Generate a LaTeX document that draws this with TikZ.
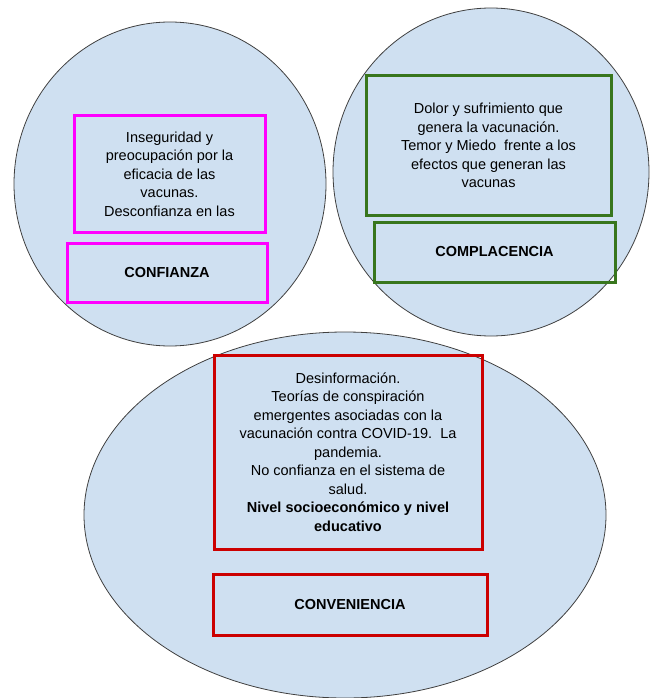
\documentclass[tikz,border=0pt]{standalone}
\usepackage{fontspec}
\setmainfont{Liberation Sans}
\definecolor{celeste}{RGB}{207,224,241}
\definecolor{fucsia}{RGB}{255,0,255}
\definecolor{verdeosc}{RGB}{56,118,29}
\definecolor{rojo}{RGB}{204,0,0}
\definecolor{borde}{RGB}{64,64,64}

\begin{document}
\begin{tikzpicture}[x=1pt, y=-1pt,
  globo/.style={draw=borde, line width=.8pt, fill=celeste},
  caja/.style={draw, line width=3pt, align=center, inner sep=0pt, font=\fontsize{14.5}{18.5}\selectfont},
  titulo/.style={caja, font=\fontsize{14.5}{18.5}\selectfont\bfseries}]
\useasboundingbox (0,0) rectangle (652,698);
\draw[globo] (170,184) ellipse [x radius=156, y radius=162];
\draw[globo] (491,172) ellipse [x radius=158, y radius=164];
\draw[globo] (345,515) ellipse [x radius=261, y radius=183];
\node[caja, fucsia, text=black, minimum width=191, minimum height=116] (conf_txt) at (169.5,174)
  {Inseguridad y\\ preocupación por la\\ eficacia de las\\ vacunas.\\ Desconfianza en las};
\node[titulo, fucsia, text=black, minimum width=200, minimum height=59] (conf) at (167,272.5) {CONFIANZA};
\node[caja, verdeosc, text=black, minimum width=245, minimum height=139] (compl_txt) at (488.5,145.5)
  {Dolor y sufrimiento que\\ genera la vacunación.\\ Temor y Miedo\ \ frente a los\\ efectos que generan las\\ vacunas};
\node[titulo, verdeosc, text=black, minimum width=241, minimum height=60] (compl) at (494.5,252) {COMPLACENCIA};
\node[caja, rojo, text=black, minimum width=268, minimum height=194] (conv_txt) at (348,452)
  {Desinformación.\\ Teorías de conspiración\\ emergentes asociadas con la\\ vacunación contra COVID-19.\ \ La\\ pandemia.\\
   No confianza en el sistema de\\ salud.\\ \textbf{Nivel socioeconómico y nivel}\\ \textbf{educativo}};
\node[titulo, rojo, text=black, minimum width=274, minimum height=61] (conv) at (350,604.5) {CONVENIENCIA};
\end{tikzpicture}
\end{document}
